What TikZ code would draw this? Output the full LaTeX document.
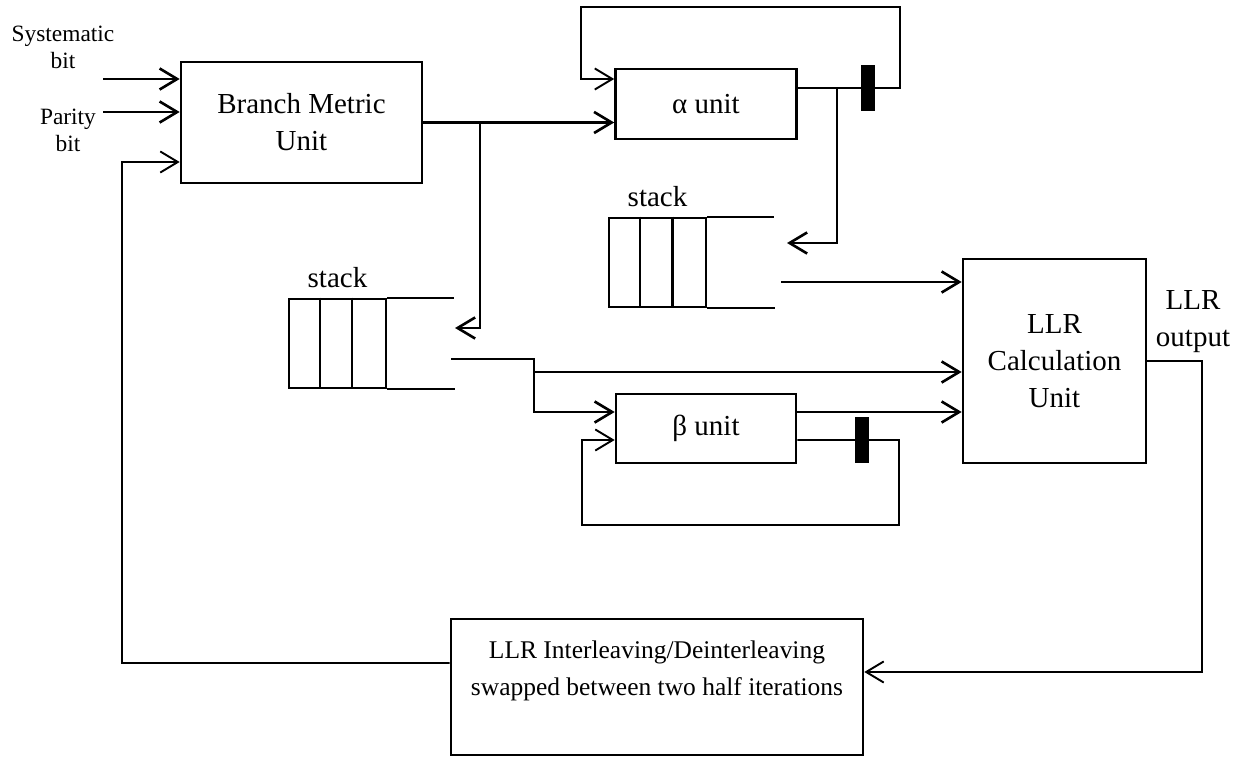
\documentclass[tikz,border=0pt]{standalone}
\usepackage{fontspec}
\setmainfont{Liberation Serif}
\usetikzlibrary{arrows.meta,positioning,calc}

\begin{document}
\begin{tikzpicture}[x=0.02cm,y=-0.02cm,
  box/.style={draw,line width=1.5pt,inner sep=0pt,align=center,font=\fontsize{16.5}{21}\selectfont},
  stackbox/.style={draw,line width=1.5pt,minimum width=1.94cm,minimum height=1.78cm,inner sep=0pt},
  reg/.style={fill=black,minimum width=0.28cm,minimum height=0.94cm,inner sep=0pt},
  lbl/.style={align=center,inner sep=0pt,font=\fontsize{16.5}{21}\selectfont},
  small/.style={align=center,inner sep=0pt,font=\fontsize{13.3}{15.3}\selectfont},
  arr/.style={-{Straight Barb[length=10pt,width=12pt]},line width=1.5pt},
  arrthin/.style={-{Straight Barb[length=10pt,width=12pt]},line width=1.1pt},
  fb/.style={line width=1pt},
]
  \useasboundingbox (0,0) rectangle (1238,757);

  % blocks
  \node[box,minimum width=4.82cm,minimum height=2.42cm] (bmu) at (301.5,122.5) {Branch Metric\\Unit};
  \node[box,minimum width=3.62cm,minimum height=1.4cm] (alpha) at (706,104) {α unit};
  \node[box,minimum width=3.6cm,minimum height=1.38cm] (beta) at (706,428.5) {β unit};
  \node[box,minimum width=3.66cm,minimum height=4.08cm] (llr) at (1054.5,361) {LLR\\Calculation\\Unit};
  \node[box,minimum width=8.24cm,minimum height=2.72cm,font=\fontsize{14.5}{21.5}\selectfont] (intl) at (657,687)
    {LLR Interleaving/Deinterleaving\\swapped between two half iterations\\\mbox{}};

  % stacks
  \node[stackbox] (stka) at (657.5,262.5) {};
  \node[stackbox] (stkb) at (337.5,343.5) {};
  \foreach \s in {stka,stkb} {
    \foreach \i in {1,2}
      \draw[line width=1.3pt] ($(\s.north west)+(\i*32.33,0)$) -- ($(\s.south west)+(\i*32.33,0)$);
    \draw[fb] (\s.north east) -- ++(67,0);
    \draw[fb] (\s.south east) -- ++(68,0);
  }
  \node[lbl,above=5.5pt of stka] (stkalbl) {stack};
  \node[lbl,above=5.5pt of stkb] (stkblbl) {stack};

  % inputs
  \node[small] (sys) at (63,47) {Systematic\\bit};
  \node[small] (par) at (68,130) {Parity\\bit};
  \coordinate (sysin) at (103,79);
  \coordinate (parin) at (103,112);
  \draw[arr] (sysin) -- (sysin -| bmu.west);
  \draw[arr] (parin) -- (parin -| bmu.west);

  % branch metrics to alpha unit and stack
  \coordinate (tap) at (480,122.5);
  \draw[arr] (bmu.east) -- (alpha.west |- bmu.east);
  \draw[arr] (tap) |- (455,328);

  % alpha recursion
  \draw[arrthin] (alpha.east |- 0,88) -- (900,88) |- (581,7) |- ($(alpha.west)+(0,-25)$);
  \node[reg] (rega) at (868,88) {};
  \coordinate (atap) at (837,88);
  \draw[arr] (atap) |- (787,243);

  % stacks to LLR
  \coordinate (sao) at (781,282);
  \draw[arr] (sao) -- (sao -| llr.west);
  \coordinate (sbo) at (451,359);
  \coordinate (split) at (534,372);
  \draw[arr] (sbo) -| (split) -- (split -| llr.west);
  \draw[arr] (split) |- ($(beta.west)+(0,-16.5)$);

  % beta recursion
  \coordinate (bo) at ($(beta.east)+(0,-16.5)$);
  \draw[arr] (bo) -- (bo -| llr.west);
  \draw[arrthin] ($(beta.east)+(0,11.5)$) -- (899,440) |- (582,525) |- ($(beta.west)+(0,11.5)$);
  \node[reg] (regb) at (862,440) {};

  % LLR out and feedback
  \node[lbl] (llrout) at (1193,322) {LLR\\output};
  \draw[arrthin] (llr.east) -| (1202,672) -- ($(intl.east)+(0,-15)$);
  \draw[arrthin] ($(intl.west)+(0,-24)$) -| (122,162) -- ($(bmu.west)+(0,39.5)$);
\end{tikzpicture}
\end{document}
